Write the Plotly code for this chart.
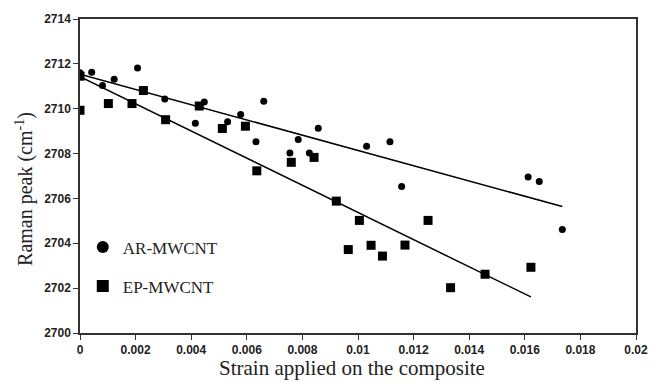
import numpy as np
import plotly.graph_objects as go

# ---- data ----
ar_strain = [0, 0.00042, 0.00081, 0.00123, 0.00207, 0.00305, 0.00415, 0.00447, 0.00531, 0.00578,
             0.00633, 0.00661, 0.00755, 0.00785, 0.00825, 0.00857, 0.01031, 0.01115, 0.01157,
             0.01612, 0.01652, 0.01735]
ar_peak = [2711.6, 2711.63, 2711.03, 2711.31, 2711.82, 2710.43, 2709.35, 2710.30, 2709.42, 2709.74,
           2708.53, 2710.33, 2708.03, 2708.63, 2708.03, 2709.13, 2708.33, 2708.53, 2706.53,
           2706.95, 2706.75, 2704.62]

ep_strain = [0, 0, 0.00102, 0.00187, 0.00228, 0.00308, 0.00429, 0.00512, 0.00595, 0.00636,
             0.00760, 0.00842, 0.00922, 0.00965, 0.01005, 0.01047, 0.01088, 0.01169, 0.01252,
             0.01333, 0.01457, 0.01622]
ep_peak = [2711.45, 2709.93, 2710.23, 2710.23, 2710.81, 2709.51, 2710.12, 2709.12, 2709.22, 2707.23,
           2707.61, 2707.83, 2705.88, 2703.72, 2705.02, 2703.91, 2703.43, 2703.92, 2705.02,
           2702.02, 2702.62, 2702.93]

x_ticks = [0, 0.002, 0.004, 0.006, 0.008, 0.01, 0.012, 0.014, 0.016, 0.018, 0.02]
x_tick_text = ["0", "0.002", "0.004", "0.006", "0.008", "0.01", "0.012", "0.014", "0.016", "0.018", "0.02"]
y_ticks = [2700, 2702, 2704, 2706, 2708, 2710, 2712, 2714]


def fit_line(xs, ys):
    k, b = np.polyfit(xs, ys, 1)
    xx = np.array([min(xs), max(xs)])
    return xx, k * xx + b


fig = go.Figure()

for xs, ys in [(ar_strain, ar_peak), (ep_strain, ep_peak)]:
    fx, fy = fit_line(xs, ys)
    fig.add_trace(go.Scatter(x=fx, y=fy, mode="lines", line=dict(color="black", width=1.5),
                             showlegend=False, hoverinfo="skip"))

fig.add_trace(go.Scatter(x=ar_strain, y=ar_peak, mode="markers", name="AR-MWCNT",
                         legendgroup="a",
                         marker=dict(symbol="circle", size=7, color="black")))
fig.add_trace(go.Scatter(x=ep_strain, y=ep_peak, mode="markers", name="EP-MWCNT",
                         legendgroup="b",
                         marker=dict(symbol="square", size=9, color="black")))

tickfont = dict(family="Arial", size=12, color="#222", weight="bold")
serif = "Liberation Serif, Times New Roman"

fig.update_layout(
    width=660, height=382,
    margin=dict(l=80, r=24, t=14, b=49),
    paper_bgcolor="white", plot_bgcolor="white",
    showlegend=True,
    legend=dict(x=0.005, y=0.33, xanchor="left", yanchor="top",
                bgcolor="rgba(0,0,0,0)", font=dict(family=serif, size=17, color="#222"),
                tracegroupgap=14, itemsizing="constant"),
    xaxis=dict(range=[0, 0.02], tickvals=x_ticks, ticktext=x_tick_text,
               ticks="outside", ticklen=5, tickcolor="#333", tickwidth=1,
               showline=True, linecolor="#333", linewidth=1.5, mirror=True,
               showgrid=False, zeroline=False, tickfont=tickfont),
    yaxis=dict(range=[2700, 2714], tickvals=y_ticks,
               ticks="outside", ticklen=5, tickcolor="#333", tickwidth=1,
               showline=True, linecolor="#333", linewidth=1.5, mirror=True,
               showgrid=False, zeroline=False, tickfont=tickfont),
    annotations=[
        dict(text="Strain applied on the composite", xref="paper", yref="paper",
             x=0.49, y=-0.113, xanchor="center", yanchor="middle", showarrow=False,
             font=dict(family=serif, size=21, color="#222")),
        dict(text="Raman peak (cm<sup>-1</sup>)", xref="paper", yref="paper",
             x=-0.1, y=0.46, xanchor="center", yanchor="middle", textangle=-90,
             showarrow=False, font=dict(family=serif, size=20, color="#222")),
    ],
)

fig.write_html("out.html")
